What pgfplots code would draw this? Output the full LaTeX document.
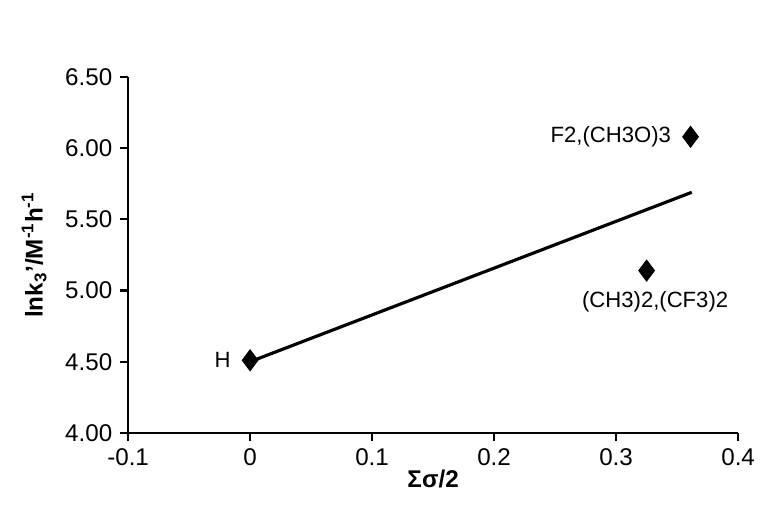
\documentclass[border=0pt]{standalone}
\usepackage{pgfplots}
\pgfplotsset{compat=1.18}
\usepackage{fontspec}
\setmainfont{Liberation Sans}
\begin{document}
\begin{tikzpicture}
\useasboundingbox (-60.9pt,-37.6pt) rectangle (300.4pt,205.8pt);
\begin{axis}[
  at={(0,0)}, anchor=south west,
  scale only axis, width=290pt, height=169.2pt,
  xmin=-0.1, xmax=0.4, ymin=4, ymax=6.5,
  axis x line=bottom, axis y line=left,
  axis line style={line width=1.2pt,-},
  xtick={-0.1,0,0.1,0.2,0.3,0.4},
  xticklabels={-0.1,0,0.1,0.2,0.3,0.4},
  ytick={4,4.5,5,5.5,6,6.5},
  yticklabels={4.00,4.50,5.00,5.50,6.00,6.50},
  tick style={line width=1pt,black}, tick align=outside, major tick length=4pt,
  ticklabel style={font=\fontsize{11.5}{13}\selectfont},
  xlabel={\bfseries Σσ/2},
  ylabel={\bfseries lnk\textsubscript{3}'/M\textsuperscript{-1}h\textsuperscript{-1}},
  label style={font=\fontsize{11.5}{13}\selectfont},
  xlabel style={yshift=5pt},
  ylabel style={yshift=2pt},
  clip=false,
]
\addplot[black, line width=1.5pt] coordinates {(0,4.50) (0.362,5.69)};
\addplot[only marks, mark=diamond*, mark size=5pt, black] coordinates {(0,4.51) (0.361,6.08) (0.325,5.14)};
\node[anchor=east,font=\fontsize{10.5}{12}\selectfont] at (axis cs:-0.01,4.51) {H};
\node[anchor=east,font=\fontsize{10.5}{12}\selectfont] at (axis cs:0.351,6.08) {F2,(CH3O)3};
\node[font=\fontsize{10.5}{12}\selectfont] at (axis cs:0.332,4.92) {(CH3)2,(CF3)2};
\end{axis}
\end{tikzpicture}
\end{document}
